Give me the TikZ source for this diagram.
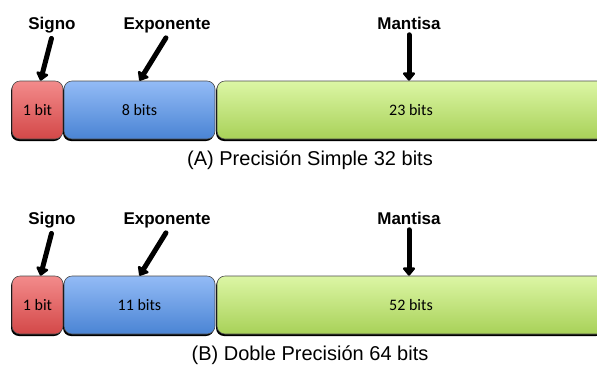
\documentclass[tikz,border=0pt]{standalone}
\usepackage{fontspec}
\setmainfont{Liberation Sans}
\newfontfamily\boxfont{Carlito}
\usetikzlibrary{positioning, arrows.meta, shadows}

\definecolor{redtop}{HTML}{F38B8B}
\definecolor{redbot}{HTML}{D34848}
\definecolor{bluetop}{HTML}{93BBF6}
\definecolor{bluebot}{HTML}{4A84D4}
\definecolor{greentop}{HTML}{DCF6A5}
\definecolor{greenbot}{HTML}{A8D158}

\begin{document}
\begin{tikzpicture}[x=1pt, y=-1pt,
  field/.style={draw=black!70, line width=0.6pt, rounded corners=8pt,
    minimum height=58pt, inner sep=0pt,
    drop shadow={shadow xshift=-1pt, shadow yshift=-2pt, fill=black, opacity=1},
    font=\boxfont\fontsize{16}{19}\selectfont},
  sgnfield/.style={field, minimum width=51pt, top color=redtop, bottom color=redbot},
  expfield/.style={field, minimum width=151pt, top color=bluetop, bottom color=bluebot},
  manfield/.style={field, minimum width=388pt, top color=greentop, bottom color=greenbot},
  tag/.style={font=\bfseries\fontsize{17}{20}\selectfont},
  pointer/.style={line width=5pt, line cap=round, shorten <=2pt,
    -{Triangle[length=9pt, width=14pt, round]}},
  caption/.style={font=\fontsize{20}{24}\selectfont}]

% page frame, the long field runs off the right edge
\path[use as bounding box, clip] (0,0) rectangle (597,365);
\fill[white] (0,0) rectangle (597,365);

% single precision
\node[sgnfield] (sigA) at (37.5,110) {1 bit};
\node[expfield] (expA) at (139.5,110) {8 bits};
\node[manfield] (manA) at (411,110) {23 bits};

\node[tag] (lsigA) at (52,25) {Signo};
\node[tag] (lexpA) at (167,25) {Exponente};
\node[tag] (lmanA) at (409,23) {Mantisa};

\draw[pointer] (lsigA.south) -- ([xshift=3pt]sigA.north);
\draw[pointer] (lexpA.south) -- (expA.north);
\draw[pointer] (lmanA.south) -- ([xshift=-2pt]manA.north);

\node[caption] (capA) at (310,160) {(A) Precisión Simple 32 bits};

% double precision
\node[sgnfield] (sigB) at (37.5,305) {1 bit};
\node[expfield] (expB) at (139.5,305) {11 bits};
\node[manfield] (manB) at (411,305) {52 bits};

\node[tag] (lsigB) at (52,220) {Signo};
\node[tag] (lexpB) at (167,220) {Exponente};
\node[tag] (lmanB) at (409,218) {Mantisa};

\draw[pointer] (lsigB.south) -- ([xshift=3pt]sigB.north);
\draw[pointer] (lexpB.south) -- (expB.north);
\draw[pointer] (lmanB.south) -- ([xshift=-2pt]manB.north);

\node[caption] (capB) at (310,355) {(B) Doble Precisión 64 bits};
\end{tikzpicture}
\end{document}
